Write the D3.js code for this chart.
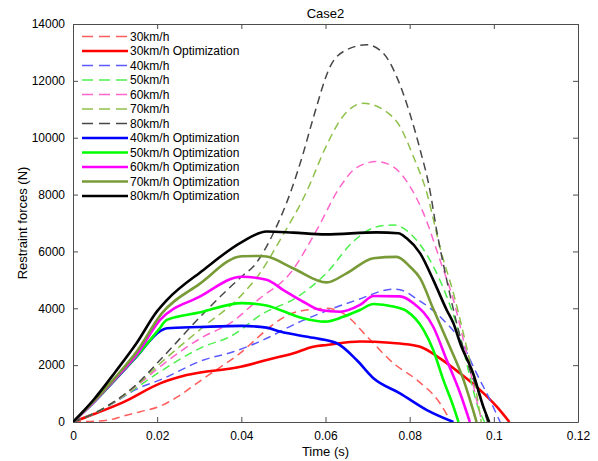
<!DOCTYPE html>
<html><head><meta charset="utf-8">
<script src="https://cdn.jsdelivr.net/npm/d3@7"></script>
<style>body{margin:0;background:#fff}svg{display:block}text{font-family:"Liberation Sans",Arial,sans-serif}</style>
</head><body>
<svg id="c" width="598" height="461"></svg>
<script>
const title = "Case2";
const xLabel = "Time (s)";
const yLabel = "Restraint forces (N)";
const xTicks = [0, 0.02, 0.04, 0.06, 0.08, 0.1, 0.12];
const xTickLabels = ["0", "0.02", "0.04", "0.06", "0.08", "0.1", "0.12"];
const yTicks = [0, 2000, 4000, 6000, 8000, 10000, 12000, 14000];

// [time (s), force (N)]
const d30 = [[0,0],[0.004,20],[0.0088,80],[0.012,210],[0.016,360],[0.0207,560],[0.025,900],[0.0294,1360],[0.0345,1880],[0.0397,2420],[0.0436,2930],[0.0476,3440],[0.0515,3790],[0.0555,3940],[0.0603,4000],[0.0642,3820],[0.0706,2890],[0.0761,2070],[0.0817,1480],[0.0872,660],[0.0898,0]];
const o30 = [[0,0],[0.005,280],[0.012,700],[0.0207,1360],[0.027,1650],[0.0401,1950],[0.046,2180],[0.0524,2420],[0.0571,2650],[0.0603,2710],[0.0682,2830],[0.0753,2790],[0.0777,2760],[0.0825,2650],[0.0872,2240],[0.092,1710],[0.0967,1130],[0.1007,540],[0.1037,0]];
const d40 = [[0,0],[0.005,300],[0.01,700],[0.015,1150],[0.0207,1480],[0.031,2180],[0.0381,2470],[0.0452,2885],[0.0531,3470],[0.0587,3820],[0.0674,4290],[0.0761,4670],[0.0777,4650],[0.0817,4330],[0.088,3590],[0.092,2885],[0.0959,1710],[0.0991,770],[0.1015,0]];
const d50 = [[0,0],[0.005,300],[0.01,710],[0.015,1200],[0.0207,1770],[0.031,2650],[0.0373,3000],[0.0452,3820],[0.0531,4380],[0.0603,5250],[0.0666,6350],[0.0722,6870],[0.0761,6930],[0.0809,6520],[0.0848,5700],[0.0888,4410],[0.092,3000],[0.0943,1600],[0.0962,540],[0.0978,0]];
const d60 = [[0,0],[0.005,300],[0.01,720],[0.015,1250],[0.0207,1950],[0.031,3000],[0.0373,3470],[0.0444,4350],[0.0516,5230],[0.0579,6750],[0.0635,8280],[0.0674,8950],[0.0722,9160],[0.0761,8980],[0.0801,8280],[0.0833,7340],[0.0872,5700],[0.0904,4290],[0.0935,2420],[0.0959,780],[0.0972,0]];
const d70 = [[0,0],[0.005,300],[0.01,730],[0.015,1280],[0.0207,2060],[0.031,3350],[0.0397,4410],[0.0444,5230],[0.0492,6400],[0.0555,8100],[0.06,9650],[0.0635,10620],[0.069,11210],[0.0738,10980],[0.0777,10390],[0.0809,9330],[0.0841,8045],[0.0864,6640],[0.0872,6150],[0.0904,4530],[0.0935,2650],[0.0959,1010],[0.097,0]];
const d80 = [[0,0],[0.005,300],[0.01,740],[0.015,1310],[0.0207,2180],[0.031,3820],[0.0405,5170],[0.0428,5460],[0.0476,6640],[0.0516,8045],[0.0547,9450],[0.0571,10700],[0.0611,12500],[0.065,13090],[0.0698,13270],[0.0737,12980],[0.0769,12150],[0.08,10870],[0.0825,9570],[0.0848,8160],[0.0864,6750],[0.0888,5000],[0.092,3000],[0.0943,1830],[0.0967,890],[0.0985,0]];
const o40 = [[0,0],[0.005,700],[0.01,1480],[0.015,2280],[0.0207,3200],[0.0223,3300],[0.03,3340],[0.0401,3380],[0.046,3320],[0.0492,3180],[0.0571,2960],[0.0627,2770],[0.0674,2180],[0.0714,1540],[0.0777,1010],[0.0841,420],[0.0904,0]];
const o50 = [[0,0],[0.005,710],[0.01,1500],[0.015,2300],[0.0203,3240],[0.0223,3590],[0.03,3850],[0.0401,4180],[0.046,4100],[0.0492,3940],[0.0547,3650],[0.0599,3530],[0.0642,3700],[0.0682,3940],[0.0714,4150],[0.0761,4060],[0.0793,3900],[0.0833,3240],[0.0856,2530],[0.088,1480],[0.0904,540],[0.0916,0]];
const o60 = [[0,0],[0.005,720],[0.01,1520],[0.015,2350],[0.0207,3590],[0.03,4400],[0.0401,5110],[0.046,5000],[0.05,4640],[0.0547,4230],[0.0587,3940],[0.0635,3880],[0.0682,4120],[0.0714,4430],[0.0777,4420],[0.0809,4180],[0.0856,3350],[0.0888,2180],[0.092,1010],[0.0943,0]];
const o70 = [[0,0],[0.005,740],[0.01,1560],[0.015,2450],[0.0211,3820],[0.03,4850],[0.0401,5830],[0.0444,5840],[0.046,5820],[0.0524,5400],[0.0603,4910],[0.065,5230],[0.0714,5760],[0.0769,5810],[0.0801,5460],[0.0825,5050],[0.0856,3980],[0.0888,2890],[0.0928,1480],[0.0959,0]];
const o80 = [[0,0],[0.005,800],[0.01,1750],[0.015,2750],[0.02,3900],[0.0223,4290],[0.031,5350],[0.0401,6330],[0.046,6700],[0.0524,6660],[0.06,6600],[0.0722,6670],[0.0773,6640],[0.0793,6460],[0.0825,5930],[0.0856,5000],[0.0888,3940],[0.0904,3470],[0.092,2770],[0.0951,1700],[0.0975,540],[0.0989,0]];

const seriesNames = ["30km/h","30km/h Optimization","40km/h","50km/h","60km/h","70km/h","80km/h","40km/h Optimization","50km/h Optimization","60km/h Optimization","70km/h Optimization","80km/h Optimization"];
const seriesData = [d30,o30,d40,d50,d60,d70,d80,o40,o50,o60,o70,o80];
const seriesColors = ["#ff5c5c","#ff0000","#5a5aff","#4cf04c","#ff66cc","#8fc04a","#474747","#0000ff","#00ff00","#ff00ff","#789b37","#000000"];
const seriesDashed = [true,false,true,true,true,true,true,false,false,false,false,false];

const svg = d3.select("#c");
const m = {l:73, r:578, t:24, b:422};
const x = d3.scaleLinear().domain([0,0.12]).range([m.l,m.r]);
const y = d3.scaleLinear().domain([0,14000]).range([m.b,m.t]);

svg.append("defs").append("clipPath").attr("id","clip").append("rect")
  .attr("x",m.l).attr("y",m.t).attr("width",m.r-m.l).attr("height",m.b-m.t);

const axisColor = "#4d4d4d";
// axes with inward ticks
const fmtX = (d,i)=>xTickLabels[i];
svg.append("g").attr("transform",`translate(0,${m.b})`)
  .call(d3.axisBottom(x).tickValues(xTicks).tickFormat(fmtX).tickSizeInner(-5).tickSizeOuter(0).tickPadding(9))
  .call(g=>{g.select(".domain").attr("stroke",axisColor);g.selectAll("line").attr("stroke",axisColor);g.selectAll("text").attr("font-size",12).attr("fill","#000");});
svg.append("g").attr("transform",`translate(0,${m.t})`)
  .call(d3.axisTop(x).tickValues(xTicks).tickFormat("").tickSizeInner(-5).tickSizeOuter(0))
  .call(g=>{g.select(".domain").attr("stroke",axisColor);g.selectAll("line").attr("stroke",axisColor);});
svg.append("g").attr("transform",`translate(${m.l},0)`)
  .call(d3.axisLeft(y).tickValues(yTicks).tickFormat(d3.format("d")).tickSizeInner(-5).tickSizeOuter(0).tickPadding(8))
  .call(g=>{g.select(".domain").attr("stroke",axisColor);g.selectAll("line").attr("stroke",axisColor);g.selectAll("text").attr("font-size",12).attr("fill","#000");});
svg.append("g").attr("transform",`translate(${m.r},0)`)
  .call(d3.axisRight(y).tickValues(yTicks).tickFormat("").tickSizeInner(-5).tickSizeOuter(0))
  .call(g=>{g.select(".domain").attr("stroke",axisColor);g.selectAll("line").attr("stroke",axisColor);});

const line = d3.line().x(d=>x(d[0])).y(d=>y(d[1])).curve(d3.curveMonotoneX);
const plot = svg.append("g").attr("clip-path","url(#clip)");
seriesData.forEach((s,i)=>{
  plot.append("path").attr("d",line(s)).attr("fill","none")
    .attr("stroke",seriesColors[i])
    .attr("stroke-width",seriesDashed[i]?1.5:2.6)
    .attr("stroke-dasharray",seriesDashed[i]?"8,5":null)
    .attr("stroke-linejoin","round");
});

// legend
const lg = svg.append("g");
seriesNames.forEach((n,i)=>{
  const yy = 36.5 + i*14.5;
  lg.append("line").attr("x1",82).attr("x2",128).attr("y1",yy).attr("y2",yy)
    .attr("stroke",seriesColors[i]).attr("stroke-width",seriesDashed[i]?1.5:2.6)
    .attr("stroke-dasharray",seriesDashed[i]?"11,6":null);
  lg.append("text").attr("x",130).attr("y",yy).attr("dy","0.35em").attr("font-size",12).text(n);
});

svg.append("text").attr("x",(m.l+m.r)/2).attr("y",18).attr("text-anchor","middle").attr("font-size",13).text(title);
svg.append("text").attr("x",(m.l+m.r)/2).attr("y",456).attr("text-anchor","middle").attr("font-size",13).text(xLabel);
svg.append("text").attr("transform",`translate(27,${(m.t+m.b)/2}) rotate(-90)`).attr("text-anchor","middle").attr("font-size",13).text(yLabel);
</script>
</body></html>
